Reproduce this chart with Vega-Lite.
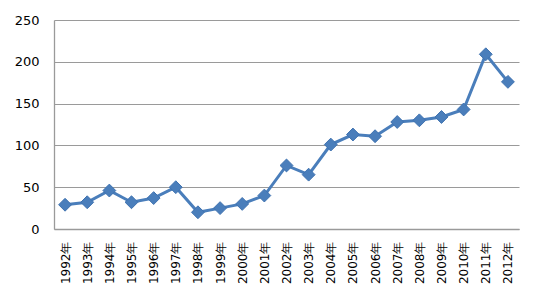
{
  "$schema": "https://vega.github.io/schema/vega-lite/v6.json",
  "autosize": "none",
  "width": 465,
  "height": 209,
  "padding": {"left": 54, "top": 20, "right": 21, "bottom": 76},
  "background": "white",
  "config": {"view": {"stroke": null}, "font": "DejaVu Sans"},
  "data": {"values": [
    {"year": "1992年", "value": 29},
    {"year": "1993年", "value": 32},
    {"year": "1994年", "value": 46},
    {"year": "1995年", "value": 32},
    {"year": "1996年", "value": 37},
    {"year": "1997年", "value": 50},
    {"year": "1998年", "value": 20},
    {"year": "1999年", "value": 25},
    {"year": "2000年", "value": 30},
    {"year": "2001年", "value": 40},
    {"year": "2002年", "value": 76},
    {"year": "2003年", "value": 65},
    {"year": "2004年", "value": 101},
    {"year": "2005年", "value": 113},
    {"year": "2006年", "value": 111},
    {"year": "2007年", "value": 128},
    {"year": "2008年", "value": 130},
    {"year": "2009年", "value": 134},
    {"year": "2010年", "value": 143},
    {"year": "2011年", "value": 209},
    {"year": "2012年", "value": 176}
  ]},
  "encoding": {
    "x": {
      "field": "year", "type": "ordinal", "sort": null,
      "scale": {"type": "point", "padding": 0.5},
      "axis": {
        "title": null, "labelAngle": -90, "labelAlign": "right", "labelBaseline": "middle",
        "labelFontSize": 12, "labelColor": "#000000", "labelPadding": 12,
        "ticks": false, "domainColor": "#9a9a9a", "domainWidth": 1.3, "grid": false
      }
    },
    "y": {
      "field": "value", "type": "quantitative",
      "scale": {"domain": [0, 250], "nice": false},
      "axis": {
        "title": null, "values": [0, 50, 100, 150, 200, 250], "labelFontSize": 13,
        "labelColor": "#000000", "labelPadding": 15, "ticks": false,
        "domainColor": "#9a9a9a", "domainWidth": 1.3,
        "grid": true, "gridColor": "#9a9a9a", "gridWidth": 1.2
      }
    }
  },
  "layer": [
    {"mark": {"type": "line", "color": "#4a7ebb", "strokeWidth": 3}},
    {"mark": {"type": "point", "shape": "diamond", "size": 165, "filled": true, "fill": "#4a7ebb", "stroke": "#3f72b0", "strokeWidth": 1, "opacity": 1}}
  ]
}
